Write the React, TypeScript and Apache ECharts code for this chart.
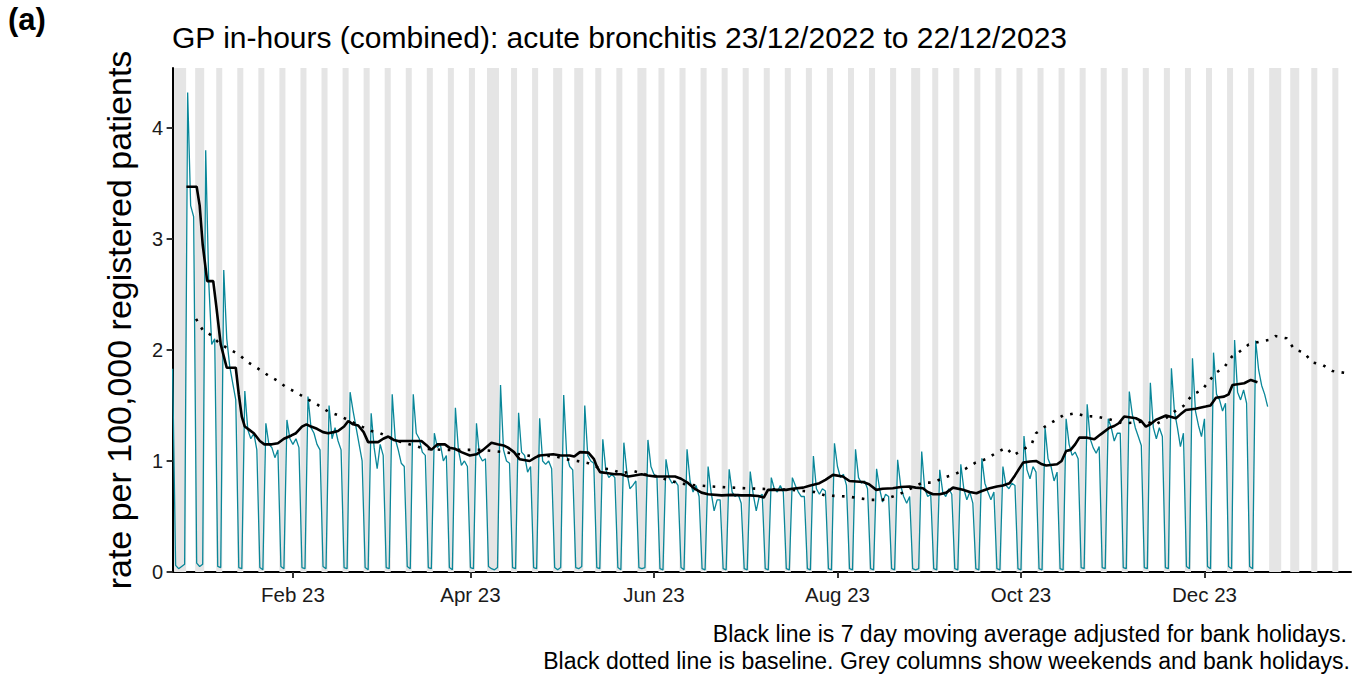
import React, { useEffect, useRef } from "react";
import * as echarts from "echarts";

const DAY = 86400000;
const START = Date.UTC(2022, 11, 23); // day 0 = Fri 23/12/2022
const dayIndex = (y: number, m: number, d: number) => (Date.UTC(y, m, d) - START) / DAY;

// Daily rate per 100,000 (first value Fri 23 Dec 2022, then rows Sat..Fri)
const dailyRate: number[] = [
  1.83,
  0.06, 0.03, 0.05, 0.07, 4.32, 3.3, 3.2,
  0.08, 0.05, 0.07, 3.8, 2.62, 2.05, 2.1,
  0.05, 0.04, 2.72, 2.1, 1.85, 1.7, 1.55,
  0.04, 0.03, 1.63, 1.28, 1.2, 1.25, 1.1,
  0.04, 0.02, 1.34, 1.15, 1.12, 1.03, 1.1,
  0.05, 0.03, 1.37, 1.2, 1.15, 1.2, 1.12,
  0.04, 0.03, 1.58, 1.3, 1.25, 1.15, 1.1,
  0.05, 0.03, 1.5, 1.2, 1.3, 1.18, 1.1,
  0.04, 0.03, 1.62, 1.45, 1.3, 1.15, 1.0,
  0.04, 0.02, 1.43, 1.12, 0.93, 1.15, 1.05,
  0.04, 0.03, 1.6, 1.2, 1.1, 0.98, 0.95,
  0.05, 0.03, 1.6, 1.25, 1.2, 1.08, 1.05,
  0.04, 0.03, 1.25, 1.12, 1.15, 1.0, 1.05,
  0.04, 0.02, 1.48, 1.1, 0.96, 1.0, 0.95,
  0.04, 0.03, 1.34, 1.05, 1.0, 1.02, 0.05,
  0.03, 0.02, 0.04, 1.685, 1.1, 1.0, 0.98,
  0.04, 0.03, 1.435, 1.08, 1.05, 0.9, 0.95,
  0.04, 0.03, 1.385, 1.0, 0.97, 1.0, 0.93,
  0.04, 0.02, 0.04, 1.595, 1.05, 0.95, 0.92,
  0.04, 0.03, 0.05, 1.5, 1.05, 1.0, 0.98,
  0.04, 0.03, 1.195, 0.92, 0.85, 0.88, 0.85,
  0.04, 0.02, 1.165, 0.9, 0.75, 0.78, 0.82,
  0.04, 0.03, 0.04, 1.19, 0.95, 0.88, 0.85,
  0.03, 0.02, 1.015, 0.85, 0.8, 0.82, 0.78,
  0.04, 0.02, 1.105, 0.82, 0.72, 0.78, 0.68,
  0.03, 0.02, 0.95, 0.72, 0.55, 0.65, 0.65,
  0.03, 0.02, 0.925, 0.72, 0.68, 0.7, 0.62,
  0.03, 0.02, 0.905, 0.7, 0.55, 0.68, 0.7,
  0.03, 0.02, 0.85, 0.75, 0.72, 0.78, 0.72,
  0.03, 0.02, 0.85, 0.78, 0.72, 0.68, 0.68,
  0.03, 0.02, 1.045, 0.75, 0.7, 0.75, 0.73,
  0.03, 0.02, 1.16, 0.95, 0.85, 0.88, 0.78,
  0.03, 0.02, 1.105, 0.85, 0.8, 0.82, 0.75,
  0.03, 0.02, 0.93, 0.75, 0.63, 0.7, 0.68,
  0.03, 0.02, 1.01, 0.78, 0.68, 0.62, 0.68,
  0.03, 0.02, 0.03, 1.085, 0.75, 0.68, 0.7,
  0.03, 0.02, 0.92, 0.72, 0.68, 0.75, 0.7,
  0.03, 0.02, 0.97, 0.75, 0.65, 0.72, 0.62,
  0.03, 0.02, 1.024, 0.8, 0.72, 0.65, 0.72,
  0.03, 0.02, 0.95, 0.78, 0.75, 0.8, 0.78,
  0.03, 0.02, 1.225, 0.92, 0.84, 0.95, 0.9,
  0.03, 0.02, 1.3, 1.02, 0.95, 0.82, 0.9,
  0.03, 0.02, 1.38, 1.15, 1.05, 1.08, 1.02,
  0.04, 0.03, 1.51, 1.2, 1.12, 1.07, 1.13,
  0.04, 0.03, 1.38, 1.3, 1.18, 1.25, 1.25,
  0.04, 0.03, 1.625, 1.42, 1.3, 1.22, 1.14,
  0.04, 0.03, 1.705, 1.3, 1.2, 1.3, 1.22,
  0.04, 0.03, 1.835, 1.45, 1.3, 1.13, 1.25,
  0.05, 0.03, 1.925, 1.45, 1.32, 1.22, 1.38,
  0.05, 0.03, 1.976, 1.6, 1.55, 1.45, 1.52,
  0.05, 0.03, 2.09, 1.62, 1.55, 1.64, 1.52,
  0.05, 0.03, 2.085, 1.82, 1.68, 1.6, 1.49,
];

// 7 day moving average: [day index from 23/12/2022, value]
const movingAverage: [number, number][] = [
  [4.6, 3.47], [8, 3.47], [9, 3.3], [10, 2.95], [11.5, 2.62], [13.5, 2.62], [14.5, 2.4], [16, 2.05],
  [18, 1.84], [21, 1.84], [22, 1.6], [23, 1.4], [24, 1.31], [25.5, 1.28], [27, 1.25], [29, 1.18],
  [30.5, 1.15], [33, 1.15], [35, 1.16], [37, 1.2], [39.5, 1.23], [41, 1.25], [43, 1.31], [44.5, 1.33],
  [46, 1.31], [48, 1.29], [50, 1.26], [51.7, 1.25], [53.5, 1.26], [55, 1.27], [57, 1.31], [58.4, 1.36],
  [60, 1.33], [61.7, 1.32], [63.5, 1.26], [65, 1.17], [68.3, 1.17], [70, 1.2], [71.7, 1.22], [73.5, 1.19],
  [75, 1.18], [79.4, 1.18], [82.7, 1.18], [84.5, 1.14], [86, 1.1], [88, 1.15], [90.5, 1.15], [92, 1.12],
  [93.8, 1.11], [96, 1.08], [98.8, 1.05], [101, 1.06], [103.2, 1.1], [106, 1.165], [108, 1.15], [110, 1.14],
  [111.5, 1.12], [113.5, 1.08], [115.4, 1.015], [118.7, 1.0], [120.5, 1.03], [122, 1.05], [126.5, 1.06],
  [129, 1.05], [132, 1.05], [133.5, 1.04], [135.4, 1.08], [138.2, 1.075], [140, 1.02], [141, 0.95],
  [142.1, 0.9], [144.8, 0.89], [147, 0.88], [149, 0.88], [151.5, 0.86], [153.5, 0.87], [155.9, 0.88],
  [158, 0.87], [160.3, 0.86], [163, 0.86], [167, 0.86], [169, 0.84], [171.4, 0.8], [173.5, 0.75],
  [175.8, 0.715], [178, 0.7], [182.5, 0.69], [186, 0.695], [189.1, 0.69], [192, 0.69], [194.7, 0.685],
  [196.5, 0.67], [197.9, 0.74], [200, 0.74], [204, 0.74], [206, 0.75], [209.6, 0.76], [212, 0.78],
  [215, 0.8], [217, 0.83], [219.5, 0.875], [222.8, 0.86], [225, 0.82], [229.5, 0.81], [231.5, 0.79],
  [233.9, 0.74], [236, 0.75], [239.4, 0.755], [242, 0.765], [245, 0.77], [247, 0.76], [249.4, 0.755],
  [251, 0.72], [252.8, 0.7], [255, 0.7], [257.2, 0.715], [259.4, 0.76], [262.7, 0.74], [265, 0.72],
  [267.2, 0.71], [269, 0.73], [271.6, 0.755], [274, 0.77], [276, 0.78], [278.2, 0.8], [280, 0.87],
  [282.7, 0.985], [285, 0.995], [287, 1.0], [289, 0.97], [290.4, 0.96], [294, 0.97], [295.5, 1.0],
  [297, 1.09], [298.5, 1.1], [300, 1.15], [301.4, 1.21], [304, 1.21], [306.4, 1.195], [308.5, 1.24],
  [311.4, 1.3], [313, 1.315], [314.5, 1.34], [316.3, 1.4], [320.2, 1.385], [322, 1.36], [323.5, 1.31],
  [325, 1.33], [326.8, 1.37], [328.5, 1.39], [330.2, 1.41], [333.5, 1.385], [335, 1.42], [336.8, 1.46],
  [340, 1.47], [343.4, 1.49], [345, 1.5], [346.8, 1.57], [349.5, 1.58], [351, 1.6], [352.3, 1.685],
  [356.2, 1.7], [358.4, 1.73], [360.6, 1.71],
];

// Baseline (dotted): [day index from 23/12/2022, value]
const baseline: [number, number][] = [
  [7.8, 2.28], [10, 2.18], [13, 2.13], [15.5, 2.06], [18, 2.02], [22, 1.96], [25, 1.89], [28, 1.84],
  [31.8, 1.77], [35, 1.72], [38, 1.66], [41, 1.62], [44.9, 1.555], [48, 1.51], [52, 1.44], [55.3, 1.41],
  [59, 1.36], [62, 1.32], [66.1, 1.27], [69, 1.25], [73, 1.2], [76, 1.17], [80, 1.14], [84, 1.11],
  [90, 1.1], [99, 1.1], [103, 1.1], [110, 1.08], [115.6, 1.06], [119, 1.045], [127, 1.045], [131, 1.015],
  [134.5, 1.0], [138.2, 0.98], [141.9, 0.935], [145.5, 0.925], [149.3, 0.89], [153.2, 0.91], [157, 0.88],
  [160.6, 0.865], [164.4, 0.83], [168.3, 0.8], [172.2, 0.785], [179.4, 0.77], [186, 0.76], [190.3, 0.755],
  [194.2, 0.75], [200, 0.745], [206, 0.74], [209.6, 0.73], [213.4, 0.72], [217, 0.69], [220.8, 0.685],
  [224.5, 0.68], [228.3, 0.664], [232.2, 0.65], [236, 0.65], [239.4, 0.68], [242.7, 0.715], [246, 0.76],
  [249.2, 0.805], [253, 0.805], [256.2, 0.85], [260, 0.88], [263.6, 0.93], [266.9, 0.985], [270.7, 1.02],
  [273.8, 1.075], [277.1, 1.12], [279.4, 1.05], [282.5, 1.1], [285.5, 1.15], [287, 1.25], [290, 1.31],
  [293, 1.36], [296, 1.41], [300, 1.43], [303.4, 1.405], [307.2, 1.4], [310.8, 1.38], [315.8, 1.34],
  [319.5, 1.345], [323.5, 1.36], [326.5, 1.325], [329.7, 1.375], [333, 1.445], [336, 1.495], [338.9, 1.595],
  [342.2, 1.64], [344.5, 1.72], [346.9, 1.795], [349.7, 1.85], [352.1, 1.94], [354.9, 1.99], [357.7, 2.05],
  [361.3, 2.075], [364.4, 2.09], [366.6, 2.125], [370.3, 2.105], [372.9, 2.005], [376.2, 1.975],
  [378.7, 1.89], [382.3, 1.865], [385.6, 1.81], [390.5, 1.79],
];

// Bank holidays (England)
const bankHolidays: string[] = [
  "2022-12-26", "2022-12-27", "2023-01-02", "2023-04-07", "2023-04-10", "2023-05-01",
  "2023-05-08", "2023-05-29", "2023-08-28", "2023-12-25", "2023-12-26", "2024-01-01",
];

const tickDays: number[] = [
  dayIndex(2023, 1, 1), dayIndex(2023, 3, 1), dayIndex(2023, 5, 1),
  dayIndex(2023, 7, 1), dayIndex(2023, 9, 1), dayIndex(2023, 11, 1),
];
const tickLabels: string[] = ["Feb 23", "Apr 23", "Jun 23", "Aug 23", "Oct 23", "Dec 23"];
const yTicks: number[] = [0, 1, 2, 3, 4];

const X_MIN = -0.2;
const X_MAX = 391.7;
const Y_MAX = 4.54;
const FONT = "'Liberation Sans', Arial, Helvetica, sans-serif";

function greyColumns(): [number, number][] {
  const hol = new Set(bankHolidays);
  const runs: [number, number][] = [];
  let runStart = -1;
  for (let i = 0; i <= 392; i++) {
    const d = new Date(START + i * DAY);
    const iso = d.toISOString().slice(0, 10);
    const wd = d.getUTCDay();
    const off = wd === 0 || wd === 6 || hol.has(iso);
    if (off && runStart < 0) runStart = i;
    if (!off && runStart >= 0) {
      runs.push([runStart - 0.5, i - 0.5]);
      runStart = -1;
    }
  }
  if (runStart >= 0) runs.push([runStart - 0.5, 392.5]);
  return runs;
}

export default function App() {
  const ref = useRef<HTMLDivElement>(null);
  useEffect(() => {
    const chart = echarts.init(ref.current!, null, { renderer: "svg" });
    const option: any = {
      animation: false,
      backgroundColor: "#ffffff",
      grid: { left: 172, right: 11, top: 68, bottom: 102, containLabel: false },
      xAxis: {
        type: "value",
        min: X_MIN,
        max: X_MAX,
        axisLine: { show: true, onZero: false, lineStyle: { color: "#000", width: 2 } },
        axisTick: { show: true, customValues: tickDays, length: 6, lineStyle: { color: "#333", width: 2 } },
        axisLabel: {
          customValues: tickDays,
          formatter: (v: number) => {
            const k = tickDays.indexOf(v);
            return k >= 0 ? tickLabels[k] : "";
          },
          fontSize: 20.5,
          color: "#1a1a1a",
          margin: 12,
          fontFamily: FONT,
        },
        splitLine: { show: false },
      },
      yAxis: {
        type: "value",
        min: 0,
        max: Y_MAX,
        name: "rate per 100,000 registered patients",
        nameLocation: "middle",
        nameGap: 36,
        nameTextStyle: { fontSize: 34, color: "#000", fontFamily: FONT },
        axisLine: { show: true, lineStyle: { color: "#000", width: 2 } },
        axisTick: { show: true, customValues: yTicks, length: 6, lineStyle: { color: "#333", width: 2 } },
        axisLabel: { customValues: yTicks, fontSize: 20, color: "#1a1a1a", margin: 9, fontFamily: FONT },
        splitLine: { show: false },
      },
      graphic: [
        { type: "text", left: 8, top: 4, style: { text: "(a)", fontSize: 31, fontWeight: "bold", fill: "#000", fontFamily: FONT } },
        { type: "text", x: 172, y: 37, style: { text: "GP in-hours (combined): acute bronchitis 23/12/2022 to 22/12/2023", fontSize: 30, fill: "#000", fontFamily: FONT, textVerticalAlign: "middle" } },
        { type: "text", x: 1347, y: 634, style: { text: "Black line is 7 day moving average adjusted for bank holidays.", fontSize: 23, fill: "#000", fontFamily: FONT, textAlign: "right", textVerticalAlign: "middle" } },
        { type: "text", x: 1350, y: 661, style: { text: "Black dotted line is baseline. Grey columns show weekends and bank holidays.", fontSize: 23, fill: "#000", fontFamily: FONT, textAlign: "right", textVerticalAlign: "middle" } },
      ],
      series: [
        {
          type: "custom",
          z: 1,
          silent: true,
          clip: true,
          encode: { x: [0, 1] },
          data: greyColumns(),
          renderItem: (_p: any, api: any) => {
            const a = api.coord([api.value(0), Y_MAX]);
            const b = api.coord([api.value(1), 0]);
            return {
              type: "rect",
              shape: { x: a[0], y: a[1], width: b[0] - a[0], height: b[1] - a[1] },
              style: { fill: "#e5e5e5" },
            };
          },
        },
        {
          type: "line",
          z: 2,
          data: dailyRate.map((v, i) => [i, v]),
          showSymbol: false,
          lineStyle: { color: "#0a8799", width: 1.3 },
        },
        {
          type: "line",
          z: 3,
          data: baseline,
          showSymbol: false,
          lineStyle: { color: "#000", width: 2.6, type: [2.6, 7.4], cap: "butt" },
        },
        {
          type: "line",
          z: 4,
          data: movingAverage,
          showSymbol: false,
          lineStyle: { color: "#000", width: 2.6 },
        },
      ],
    };
    chart.setOption(option);
    return () => chart.dispose();
  }, []);
  return <div ref={ref} style={{ position: "absolute", left: 0, top: 0, width: 1362, height: 674 }} />;
}
